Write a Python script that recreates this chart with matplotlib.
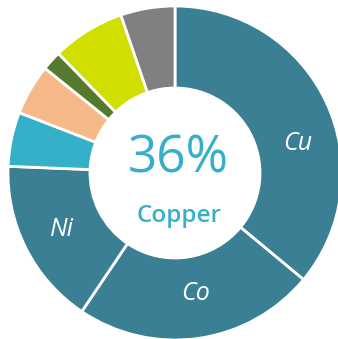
import matplotlib.pyplot as plt

# slices, clockwise from the top
names = ['Cu', 'Co', 'Ni', 'Other 1', 'Other 2', 'Other 3', 'Other 4', 'Other 5']
shares = [36, 23.4, 16.2, 5.25, 4.9, 1.9, 7.05, 5.25]
colors = ['#3a7f93', '#3a7f93', '#3a7f93', '#36b0c9', '#f5b887', '#557a2e', '#d0de00', '#808080']
shown = ['Cu', 'Co', 'Ni']
label_pos = {'Cu': (298, 143), 'Co': (196, 293), 'Ni': (62, 230)}

fig = plt.figure(figsize=(3.38, 3.39), dpi=100)
ax = fig.add_axes([0, 0, 1, 1])

cx, cy = 175, 339 - 173
ax.pie(shares, colors=colors, startangle=90, counterclock=False,
       center=(cx, cy), radius=167, frame=True,
       wedgeprops=dict(width=167 - 85, edgecolor='white', linewidth=2))

for n in shown:
    x, y = label_pos[n]
    ax.text(x, 339 - y, n, color='white', fontsize=18, style='italic',
            family='Open Sans', ha='center', va='center')

ax.text(178, 339 - 159, '36%', color='#36b0c9', fontsize=37,
        family='Open Sans', weight='medium', ha='center', va='center')
ax.text(179, 339 - 216, 'Copper', color='#36b0c9', fontsize=17.5,
        family='Open Sans', weight='semibold', ha='center', va='center')

ax.set_xlim(0, 338)
ax.set_ylim(0, 339)
ax.axis('off')
plt.savefig('out.png', dpi=100)
